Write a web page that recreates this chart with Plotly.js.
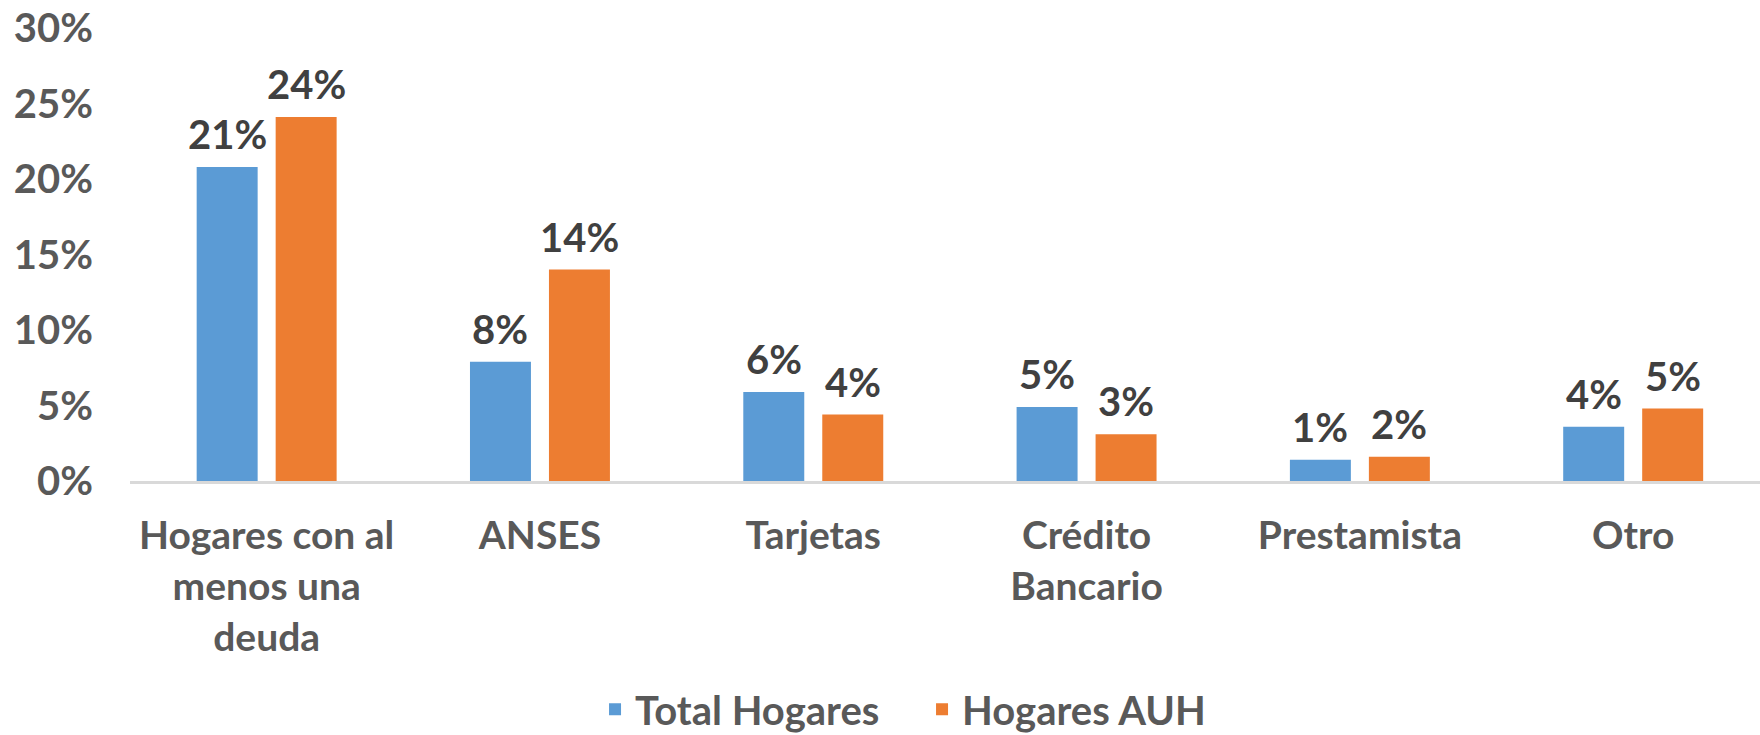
<!DOCTYPE html>
<html>
<head>
<meta charset="utf-8">
<script src="https://cdn.plot.ly/plotly-3.0.1.min.js"></script>
<style>html,body{margin:0;padding:0;background:#fff;overflow:hidden}#chart{width:1760px;height:735px}</style>
</head>
<body>
<div id="chart"></div>
<script>
const categories = ["Hogares con al<br>menos una<br>deuda", "ANSES", "Tarjetas", "Crédito<br>Bancario", "Prestamista", "Otro"];
const totalHogares = [0.208, 0.079, 0.059, 0.049, 0.014, 0.036];
const hogaresAUH = [0.241, 0.140, 0.044, 0.031, 0.016, 0.048];
const seriesNames = ["Total Hogares", "Hogares AUH"];
const yTickVals = [0, 0.05, 0.10, 0.15, 0.20, 0.25, 0.30];
const yTickText = ["0%", "5%", "10%", "15%", "20%", "25%", "30%"];

const FONT = "Lato, 'Open Sans', 'Noto Sans', sans-serif";
const labelFont = {family: FONT, size: 40, color: "#404040", weight: 700};
const colors = ["#5B9BD5", "#ED7D31"];
const seriesValues = [totalHogares, hogaresAUH];

const traces = seriesValues.map((vals, i) => ({
  type: "bar", name: seriesNames[i], x: categories, y: vals,
  marker: {color: colors[i]}, hoverinfo: "none"
}));

// data labels placed on the axes' scales, shifted to each bar of the group
const BAR_OFFSET = 39.5;
const annotations = [];
seriesValues.forEach((vals, i) => {
  vals.forEach((v, j) => {
    annotations.push({
      x: categories[j], y: v, xref: "x", yref: "y",
      text: Math.round(v * 100) + "%",
      showarrow: false, yanchor: "bottom", xanchor: "center",
      xshift: (i === 0 ? -1 : 1) * BAR_OFFSET, yshift: 7,
      font: labelFont
    });
  });
});

const layout = {
  width: 1760, height: 735,
  margin: {l: 130, r: 0, t: 28, b: 253.5, autoexpand: false},
  paper_bgcolor: "#fff", plot_bgcolor: "#fff",
  font: {family: FONT, color: "#595959"},
  barmode: "group", bargap: 0.422, bargroupgap: 0.228,
  showlegend: true,
  annotations: annotations,
  legend: {orientation: "h", x: 0.2853, xanchor: "left", y: -0.504, yanchor: "middle",
           font: {family: FONT, size: 40, color: "#595959", weight: 700}, itemwidth: 30,
           entrywidth: 282, entrywidthmode: "pixels"},
  xaxis: {type: "category", range: [-0.5, 5.464], showline: true, linecolor: "#D9D9D9", linewidth: 2.5,
          showgrid: false, zeroline: false, ticks: "outside", ticklen: 19, tickcolor: "rgba(0,0,0,0)",
          tickangle: 0, automargin: false,
          tickfont: {family: FONT, size: 39, color: "#595959", weight: 700}},
  yaxis: {range: [0, 0.30], tickvals: yTickVals, ticktext: yTickText, showgrid: false, zeroline: false,
          showline: false, ticks: "", automargin: false, ticklabelstandoff: 36,
          tickfont: {family: FONT, size: 40, color: "#595959", weight: 700}}
};

Plotly.newPlot("chart", traces, layout, {displayModeBar: false, staticPlot: true});
</script>
</body>
</html>
